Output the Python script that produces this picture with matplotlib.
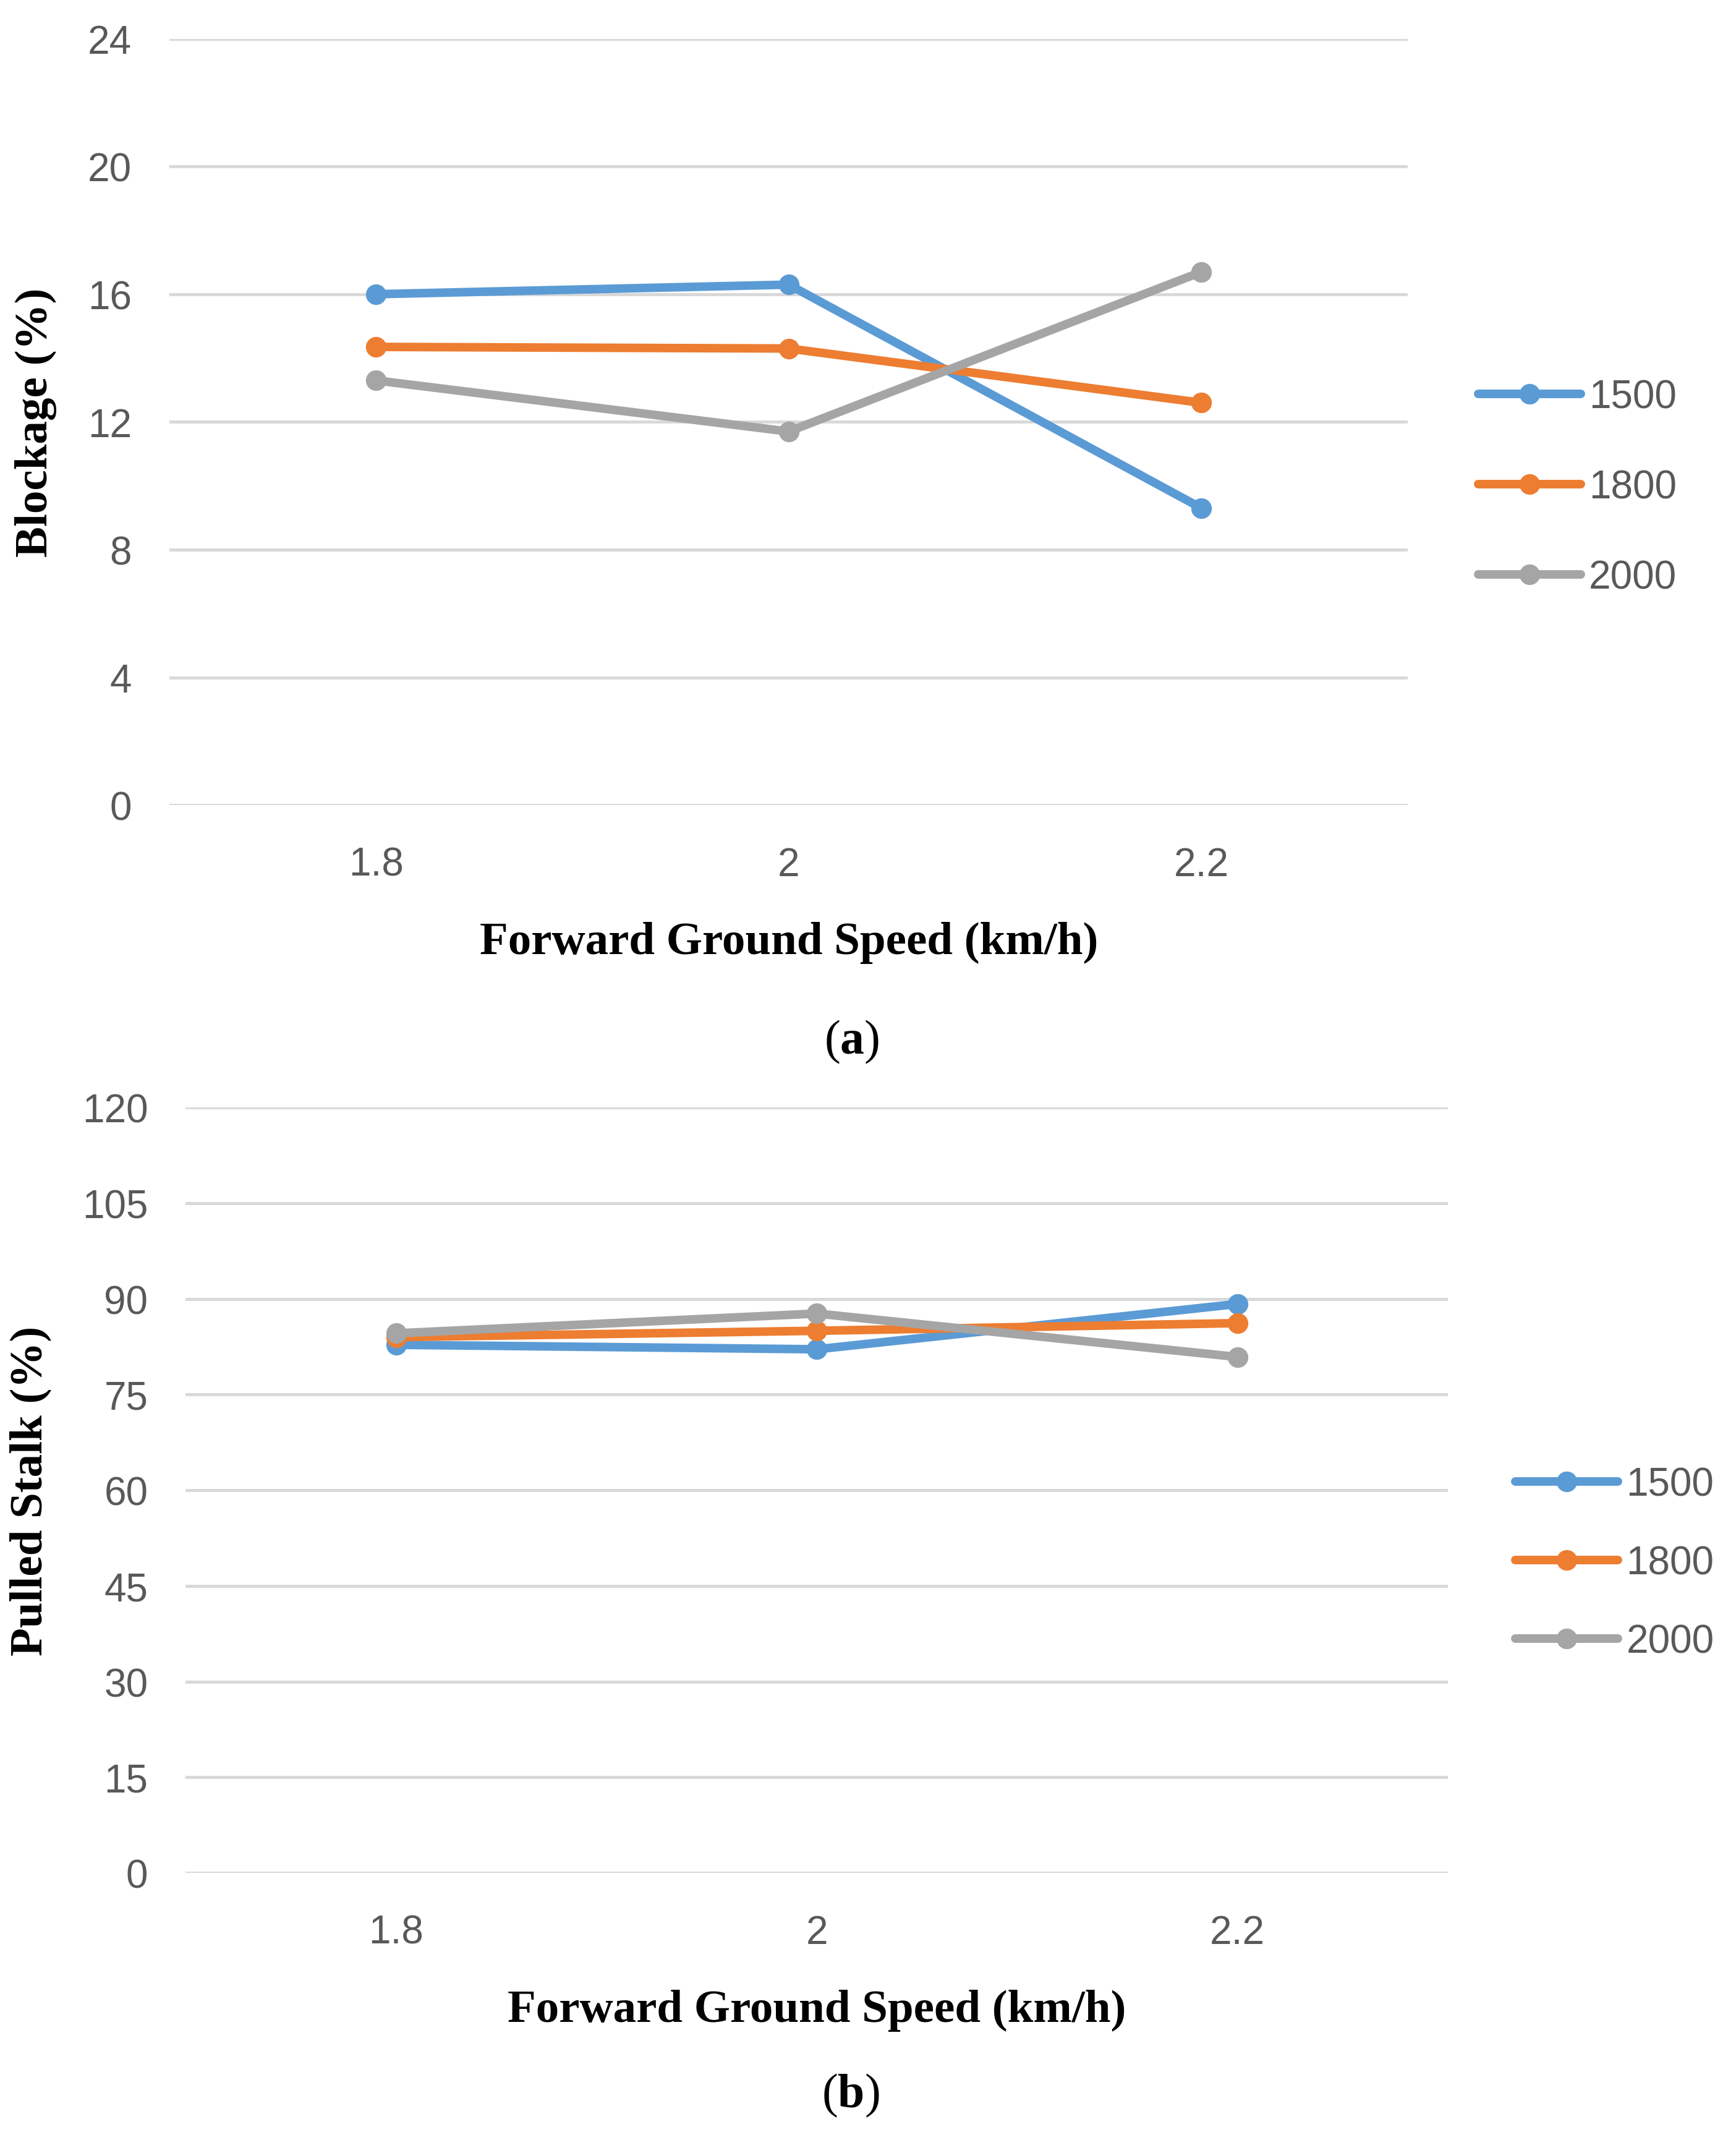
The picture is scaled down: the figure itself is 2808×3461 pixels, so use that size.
import matplotlib
matplotlib.use("Agg")
import matplotlib.pyplot as plt

# forward speed categories (km/h)
speeds = ["1.8", "2", "2.2"]
rpm_labels = ["1500", "1800", "2000"]

# (a) blockage %
blockage_1500 = [16.0, 16.3, 9.3]
blockage_1800 = [14.35, 14.3, 12.6]
blockage_2000 = [13.3, 11.7, 16.7]

# (b) pulled stalk %
pulled_1500 = [82.8, 82.1, 89.2]
pulled_1800 = [84.0, 85.0, 86.2]
pulled_2000 = [84.6, 87.7, 80.9]

colors = ["#5B9BD5", "#ED7D31", "#A5A5A5"]
grid_c = "#D9D9D9"
tick_c = "#595959"

plt.rcParams["mathtext.fontset"] = "custom"
plt.rcParams["mathtext.rm"] = "Liberation Serif"
plt.rcParams["mathtext.bf"] = "Liberation Serif:bold"

fig = plt.figure(figsize=(14.04, 17.31), dpi=200)


def make_panel(rect, series, yticks, ylabel, leg_pos, leg_space):
    ax = fig.add_axes(rect)
    x = range(len(speeds))
    for vals, lab, c in zip(series, rpm_labels, colors):
        ax.plot(x, vals, color=c, lw=5, marker="o", ms=11, label=lab,
                solid_capstyle="round", zorder=3)
    ax.set_xlim(-0.5, len(speeds) - 0.5)
    ax.set_ylim(yticks[0], yticks[-1])
    ax.set_yticks(yticks)
    ax.set_xticks(list(x))
    ax.set_xticklabels(speeds)
    ax.grid(axis="y", color=grid_c, lw=1.8, zorder=0)
    ax.set_axisbelow(True)
    for s in ax.spines.values():
        s.set_visible(False)
    ax.tick_params(length=0, labelsize=23, labelcolor=tick_c)
    ax.tick_params(axis="y", pad=22)
    ax.tick_params(axis="x", pad=24)
    for t in ax.get_xticklabels() + ax.get_yticklabels():
        t.set_fontfamily("Liberation Sans")
    ax.set_xlabel("Forward Ground Speed (km/h)", fontsize=27, fontweight="bold",
                  family="Liberation Serif", labelpad=22)
    ax.set_ylabel(ylabel, fontsize=27, fontweight="bold",
                  family="Liberation Serif", labelpad=18)
    leg = ax.legend(loc="center left", bbox_to_anchor=leg_pos,
                    bbox_transform=fig.transFigure, frameon=False,
                    handlelength=2.6, handletextpad=0.2, labelspacing=leg_space,
                    borderpad=0, borderaxespad=0,
                    prop={"family": "Liberation Sans", "size": 23})
    for t in leg.get_texts():
        t.set_color(tick_c)
    return ax


make_panel([0.0977, 0.6236, 0.7133, 0.358],
           [blockage_1500, blockage_1800, blockage_2000],
           [0, 4, 8, 12, 16, 20, 24], "Blockage (%)", (0.8516, 0.772), 1.35)

make_panel([0.107, 0.1248, 0.727, 0.3575],
           [pulled_1500, pulled_1800, pulled_2000],
           [0, 15, 30, 45, 60, 75, 90, 105, 120], "Pulled Stalk (%)", (0.873, 0.2693), 1.05)

fig.text(0.4906, 0.5133, r"($\mathbf{a}$)", ha="center", va="center", fontsize=28,
         family="Liberation Serif")
fig.text(0.4898, 0.0209, r"($\mathbf{b}$)", ha="center", va="center", fontsize=28,
         family="Liberation Serif")

fig.savefig("out.png", dpi=200, facecolor="white")
